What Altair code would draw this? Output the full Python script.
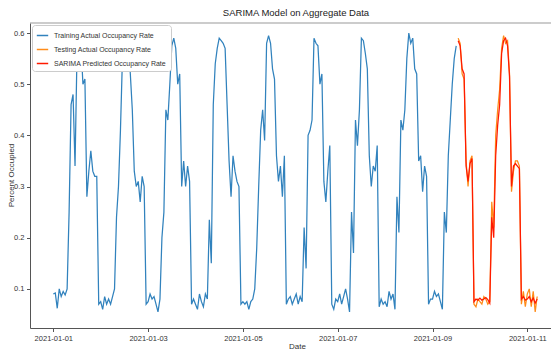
import altair as alt
import pandas as pd

FONT = "Liberation Sans, Arial, sans-serif"

series_names = [
    "Training Actual Occupancy Rate",
    "Testing Actual Occupancy Rate",
    "SARIMA Predicted Occupancy Rate",
]
series_colors = ["#3182bd", "#ff8c1a", "#ff1a00"]

# hourly training values (UTC), 2021-01-01 00:00 .. 2021-01-09 12:00
train_jan01 = [0.09, 0.092, 0.062, 0.1, 0.085, 0.095, 0.088, 0.1, 0.25, 0.46, 0.48, 0.34,
               0.56, 0.59, 0.58, 0.5, 0.51, 0.28, 0.33, 0.37, 0.33, 0.32, 0.32, 0.07]
train_jan02 = [0.075, 0.06, 0.085, 0.07, 0.08, 0.07, 0.085, 0.1, 0.24, 0.3, 0.41, 0.55,
               0.6, 0.58, 0.585, 0.52, 0.45, 0.33, 0.3, 0.31, 0.27, 0.32, 0.3, 0.07]
train_jan03 = [0.075, 0.09, 0.08, 0.085, 0.07, 0.055, 0.08, 0.2, 0.25, 0.45, 0.43, 0.5,
               0.575, 0.59, 0.57, 0.5, 0.52, 0.3, 0.35, 0.3, 0.34, 0.31, 0.07, 0.08]
train_jan04 = [0.07, 0.06, 0.09, 0.075, 0.065, 0.09, 0.08, 0.235, 0.15, 0.46, 0.54, 0.57,
               0.59, 0.585, 0.58, 0.57, 0.46, 0.35, 0.28, 0.36, 0.33, 0.31, 0.3, 0.07]
train_jan05 = [0.075, 0.07, 0.075, 0.06, 0.075, 0.08, 0.1, 0.18, 0.3, 0.41, 0.45, 0.39,
               0.58, 0.595, 0.58, 0.53, 0.51, 0.36, 0.31, 0.34, 0.28, 0.36, 0.07, 0.08]
train_jan06 = [0.085, 0.07, 0.08, 0.09, 0.07, 0.085, 0.075, 0.22, 0.14, 0.4, 0.41, 0.43,
               0.59, 0.58, 0.575, 0.5, 0.52, 0.31, 0.27, 0.33, 0.38, 0.07, 0.06, 0.08]
train_jan07 = [0.075, 0.09, 0.07, 0.085, 0.1, 0.08, 0.055, 0.25, 0.17, 0.43, 0.38, 0.45,
               0.59, 0.585, 0.56, 0.53, 0.36, 0.3, 0.34, 0.33, 0.38, 0.065, 0.08, 0.07]
train_jan08 = [0.075, 0.065, 0.095, 0.08, 0.09, 0.06, 0.28, 0.21, 0.43, 0.41, 0.45, 0.55,
               0.6, 0.58, 0.59, 0.53, 0.52, 0.35, 0.36, 0.29, 0.34, 0.32, 0.07, 0.08]
train_jan09 = [0.08, 0.095, 0.085, 0.09, 0.075, 0.06, 0.25, 0.21, 0.36, 0.43, 0.5, 0.55,
               0.575]

# hourly testing values, 2021-01-09 13:00 .. 2021-01-11 05:00
test_jan09 = [0.59, 0.58, 0.52, 0.51, 0.35, 0.3, 0.35, 0.36, 0.07, 0.065, 0.08]
test_jan10 = [0.075, 0.07, 0.085, 0.08, 0.07, 0.075, 0.27, 0.22, 0.4, 0.45, 0.49, 0.57,
              0.595, 0.58, 0.585, 0.52, 0.29, 0.33, 0.35, 0.35, 0.34, 0.07, 0.095, 0.065]
test_jan11 = [0.09, 0.1, 0.065, 0.095, 0.055, 0.085]

# SARIMA predictions over the same hours
pred_jan09 = [0.585, 0.575, 0.53, 0.52, 0.34, 0.31, 0.345, 0.355, 0.075, 0.08, 0.078]
pred_jan10 = [0.082, 0.078, 0.08, 0.083, 0.079, 0.072, 0.24, 0.2, 0.36, 0.42, 0.46, 0.56,
              0.585, 0.59, 0.575, 0.515, 0.3, 0.34, 0.345, 0.34, 0.335, 0.08, 0.085, 0.078]
pred_jan11 = [0.08, 0.085, 0.075, 0.082, 0.072, 0.08]

train_values = (train_jan01 + train_jan02 + train_jan03 + train_jan04 + train_jan05
                + train_jan06 + train_jan07 + train_jan08 + train_jan09)
test_values = test_jan09 + test_jan10 + test_jan11
pred_values = pred_jan09 + pred_jan10 + pred_jan11


def stamps(start_day, start_hour, n):
    out = []
    for i in range(n):
        tot = start_hour + i
        d = start_day + tot // 24
        h = tot % 24
        out.append(f"2021-01-{d:02d}T{h:02d}:00:00Z")
    return out


rows = []
for name, vals, (sd, sh) in [
    (series_names[0], train_values, (1, 0)),
    (series_names[1], test_values, (9, 13)),
    (series_names[2], pred_values, (9, 13)),
]:
    for t, v in zip(stamps(sd, sh, len(vals)), vals):
        rows.append({"time": t, "value": v, "series": name})
df = pd.DataFrame(rows)

W, H = 521, 305

x_enc = alt.X(
    "time:T",
    scale=alt.Scale(
        type="utc",
        domain=[
            alt.DateTime(year=2020, month=12, date=31, hours=12, minutes=12, utc=True),
            alt.DateTime(year=2021, month=1, date=11, hours=12, minutes=0, utc=True),
        ],
    ),
    axis=alt.Axis(
        values=[alt.DateTime(year=2021, month=1, date=d, utc=True) for d in (1, 3, 5, 7, 9, 11)],
        format="%Y-%m-%d",
        grid=False,
        labelFontSize=7.5,
        labelColor="#333333",
        labelPadding=3,
        tickSize=3.5,
        tickColor="#555555",
        domainColor="#555555",
        title="Date",
        titleFontSize=8,
        titleFontWeight="normal",
        titleColor="#333333",
        titleX=267,
        titleY=20,
        titleBaseline="alphabetic",
    ),
)
y_enc = alt.Y(
    "value:Q",
    scale=alt.Scale(domain=[0.0235, 0.6196], nice=False, zero=False),
    axis=alt.Axis(
        values=[0.1, 0.2, 0.3, 0.4, 0.5, 0.6],
        format=".1f",
        grid=False,
        labelFontSize=7.5,
        labelColor="#333333",
        labelPadding=2.5,
        tickSize=3.5,
        tickColor="#555555",
        domainColor="#555555",
        title="Percent Occupied",
        titleFontSize=8,
        titleFontWeight="normal",
        titleColor="#333333",
        titleX=-19,
        titleY=152,
        titleBaseline="middle",
    ),
)
color_enc = alt.Color(
    "series:N",
    scale=alt.Scale(domain=series_names, range=series_colors),
    legend=alt.Legend(
        title=None,
        orient="top-left",
        offset=2,
        padding=4,
        strokeColor="#cccccc",
        cornerRadius=3,
        fillColor="white",
        labelFontSize=7,
        labelColor="#333333",
        labelLimit=250,
        labelOffset=5,
        symbolType="stroke",
        symbolStrokeWidth=1.5,
        symbolSize=130,
        rowPadding=4,
    ),
)

base = alt.Chart(df).mark_line(strokeWidth=1.25, clip=True).encode(
    x=x_enc, y=y_enc, color=color_enc
)
layers = [base.transform_filter(alt.datum.series == n) for n in series_names]

top_line = alt.Chart(pd.DataFrame({"k": [0]})).mark_rule(color="#999999", strokeWidth=1).encode(
    x=alt.value(0), x2=alt.value(W), y=alt.value(0)
)

chart = (
    alt.layer(*layers, top_line)
    .properties(
        width=W,
        height=H,
        title=alt.TitleParams(
            "SARIMA Model on Aggregate Data",
            fontSize=9.5,
            fontWeight="normal",
            color="#222222",
            anchor="middle",
            dx=5.5,
            offset=5,
        ),
        autosize=alt.AutoSizeParams(type="none"),
        padding={"left": 22, "top": 15, "right": 0, "bottom": 22},
    )
    .configure(font=FONT)
    .configure_view(stroke=None)
)

chart.save("out.html", embed_options={"renderer": "svg", "actions": False})
